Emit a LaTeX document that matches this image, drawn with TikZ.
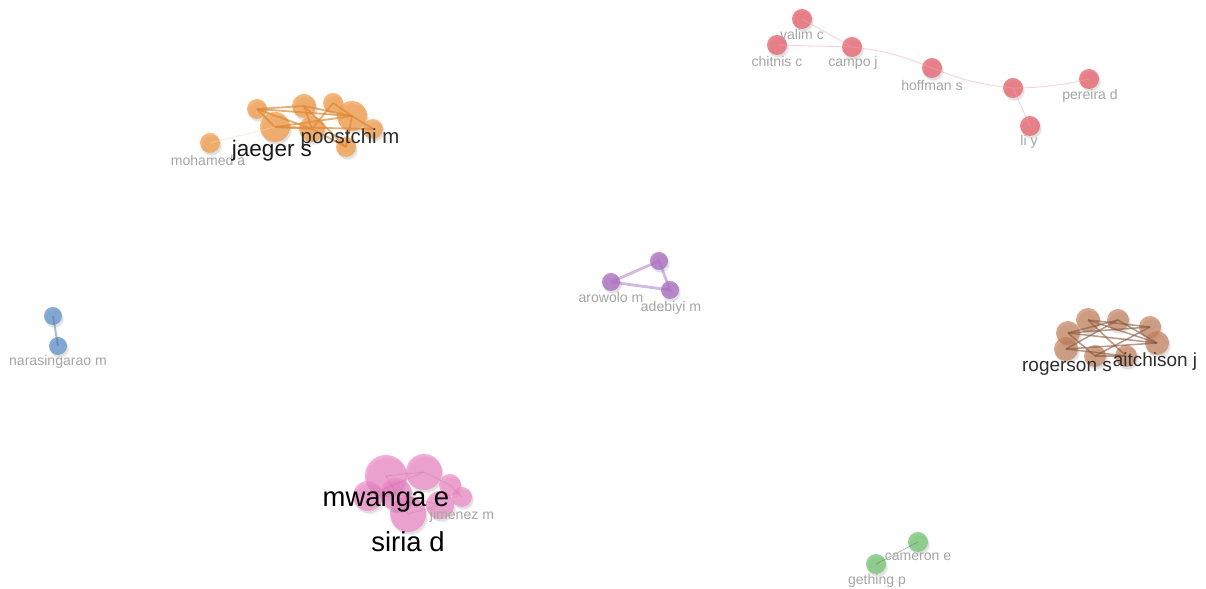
\documentclass[tikz,border=0pt]{standalone}
\usepackage{fontspec}
\setmainfont{Liberation Sans}
\usepackage{tikz}
\definecolor{vRed}{RGB}{232,104,114}
\definecolor{vOrange}{RGB}{245,150,58}
\definecolor{vPurple}{RGB}{172,112,194}
\definecolor{vBlue}{RGB}{104,152,206}
\definecolor{vBrown}{RGB}{196,126,88}
\definecolor{vPink}{RGB}{240,132,198}
\definecolor{vGreen}{RGB}{122,200,122}

\begin{document}
\begin{tikzpicture}[x=0.025cm, y=-0.025cm,
    dot/.style 2 args={circle, fill=#1, fill opacity=0.8, inner sep=0pt,
      minimum size=#2*0.05cm,
      preaction={fill=black, fill opacity=0.07, transform canvas={xshift=0.9pt, yshift=-1.6pt}},
      preaction={fill=black, fill opacity=0.05, transform canvas={xshift=1.5pt, yshift=-2.4pt}}},
    soft/.style={fill opacity=0.68},
    link/.style={draw=#1, line width=0.6pt, draw opacity=0.5},
    lbl/.style={font=\fontsize{10}{12}\selectfont, text=black!35, inner sep=0pt},
    mid/.style={font=\fontsize{14.5}{17}\selectfont, text=black!82, inner sep=0pt},
    big/.style={font=\fontsize{19.5}{23}\selectfont, text=black, inner sep=0pt}]
        \useasboundingbox[fill=white] (0,0) rectangle (1206,589);
        % red group
        \node[dot={vRed}{10}] (valim) at (802,19) {};
        \node[dot={vRed}{10}] (chitnis) at (777,45) {};
        \node[dot={vRed}{10}] (campo) at (852,47) {};
        \node[dot={vRed}{10}] (hoffman) at (932,68) {};
        \node[dot={vRed}{10}] (rhub) at (1013,88) {};
        \node[dot={vRed}{10}] (pereira) at (1089,79) {};
        \node[dot={vRed}{10}] (liy) at (1030,126) {};
        \draw[link=vRed!60] (chitnis.center) -- (campo.center);
        \draw[link=vRed!60] (valim.center) -- (campo.center);
        \draw[link=vRed!60] (campo.center) to[bend left=8] (hoffman.center);
        \draw[link=vRed!60] (hoffman.center) to[bend right=8] (rhub.center);
        \draw[link=vRed!60] (rhub.center) to[bend right=6] (pereira.center);
        \draw[link=vRed!60] (rhub.center) -- (liy.center);
        \node[lbl] (valimT) at (802,34) {valim c};
        \node[lbl] (chitnisT) at (777,61) {chitnis c};
        \node[lbl] (campoT) at (853,63) {campo j};
        \node[lbl] (hoffmanT) at (932,85) {hoffman s};
        \node[lbl] (pereiraT) at (1090,96) {pereira d};
        \node[lbl] (liyT) at (1029,142) {li y};
        % orange group
        \node[dot={vOrange}{10}, soft] (mohamed) at (210,143) {};
        \node[dot={vOrange}{10}, soft] (o2) at (257,109) {};
        \node[dot={vOrange}{12}, soft] (o3) at (304,106) {};
        \node[dot={vOrange}{10}, soft] (o4) at (333,103) {};
        \node[dot={vOrange}{15}, soft] (o5) at (352,116) {};
        \node[dot={vOrange}{10}, soft] (o6) at (373,129) {};
        \node[dot={vOrange}{10}, soft] (o7) at (346,147) {};
        \node[dot={vOrange}{15}, soft] (jaeger) at (275,127) {};
        \node[dot={vOrange}{13}, soft] (poostchi) at (312,129) {};
        \foreach \a/\b in {o2/jaeger, o2/o5, o2/o3, o3/o5, o3/poostchi, o4/o5,
            o4/poostchi, o5/o6, o5/o7, jaeger/poostchi, poostchi/o7, jaeger/o5,
            o3/o7, o2/poostchi, jaeger/o6}
          \draw[link=vOrange!92!black, line width=1.3pt, draw opacity=0.7] (\a.center) -- (\b.center);
        \draw[link=vOrange!40] (mohamed.center) -- (jaeger.center);
        \node[lbl] (mohamedT) at (208,160) {mohamed a};
        \node[mid, font=\fontsize{16}{19}\selectfont, text=black!90] (jaegerT) at (272,151) {jaeger s};
        \node[mid] (poostchiT) at (350,138) {poostchi m};
        % purple group
        \node[dot={vPurple}{9}] (arowolo) at (611,282) {};
        \node[dot={vPurple}{9}] (p2) at (659,261) {};
        \node[dot={vPurple}{9}] (adebiyi) at (670,290) {};
        \draw[link=vPurple, line width=2pt] (arowolo.center) -- (p2.center) -- (adebiyi.center) -- (arowolo.center);
        \node[lbl] (arowoloT) at (611,297) {arowolo m};
        \node[lbl] (adebiyiT) at (671,308) {adebiyi m};
        % blue group
        \node[dot={vBlue}{9}] (b1) at (53,316) {};
        \node[dot={vBlue}{9}] (narasingarao) at (58,346) {};
        \draw[link=vBlue!80!black, line width=1.4pt] (b1.center) -- (narasingarao.center);
        \node[lbl] (narasingaraoT) at (58,362) {narasingarao m};
        % brown group
        \node[dot={vBrown}{12}, soft] (k1) at (1068,333) {};
        \node[dot={vBrown}{12}, soft] (k2) at (1088,320) {};
        \node[dot={vBrown}{11}, soft] (k3) at (1118,320) {};
        \node[dot={vBrown}{11}, soft] (k4) at (1150,327) {};
        \node[dot={vBrown}{12}, soft] (rogerson) at (1066,349) {};
        \node[dot={vBrown}{12}, soft] (aitchison) at (1157,343) {};
        \node[dot={vBrown}{11}, soft] (k7) at (1095,356) {};
        \node[dot={vBrown}{11}, soft] (k8) at (1126,356) {};
        \foreach \a/\b in {k1/k3, k1/k4, k2/aitchison, rogerson/aitchison,
            rogerson/k3, k2/k8, k7/k4, k1/aitchison, k2/k4, k7/k8, rogerson/k8,
            k1/k7, k3/aitchison}
          \draw[link=vBrown!70!black, line width=1.1pt, draw opacity=0.6] (\a.center) -- (\b.center);
        \node[mid, font=\fontsize{13.5}{16}\selectfont] (rogersonT) at (1067,368) {rogerson s};
        \node[mid, font=\fontsize{13.5}{16}\selectfont] (aitchisonT) at (1155,362) {aitchison j};
        % pink group
        \node[dot={vPink}{21}, soft] (q1) at (386,476) {};
        \node[dot={vPink}{18}, soft] (q2) at (424,472) {};
        \node[dot={vPink}{15}, soft] (q3) at (368,496) {};
        \node[dot={vPink}{11}, soft] (q4) at (450,485) {};
        \node[dot={vPink}{10}, soft] (jimenez) at (462,497) {};
        \node[dot={vPink}{18}, soft] (siria) at (408,514) {};
        \node[dot={vPink}{14}, soft] (q7) at (440,505) {};
        \node[dot={vPink}{16}, soft] (mwanga) at (396,494) {};
        \foreach \a/\b in {q1/q2, q1/siria, q2/q4, q4/jimenez, mwanga/q7, q3/q2, siria/q7}
          \draw[link=vPink!80!black, draw opacity=0.3] (\a.center) -- (\b.center);
        \node[big] (mwangaT) at (386,502) {mwanga e};
        \node[big] (siriaT) at (408,542) {siria d};
        \node[lbl] (jimenezT) at (462,516) {jimenez m};
        % green group
        \node[dot={vGreen}{10}] (cameron) at (918,542) {};
        \node[dot={vGreen}{10}] (gething) at (876,564) {};
        \draw[link=vGreen!70!black] (cameron.center) -- (gething.center);
        \node[lbl] (cameronT) at (918,557) {cameron e};
        \node[lbl] (gethingT) at (877,581) {gething p};
\end{tikzpicture}
\end{document}
